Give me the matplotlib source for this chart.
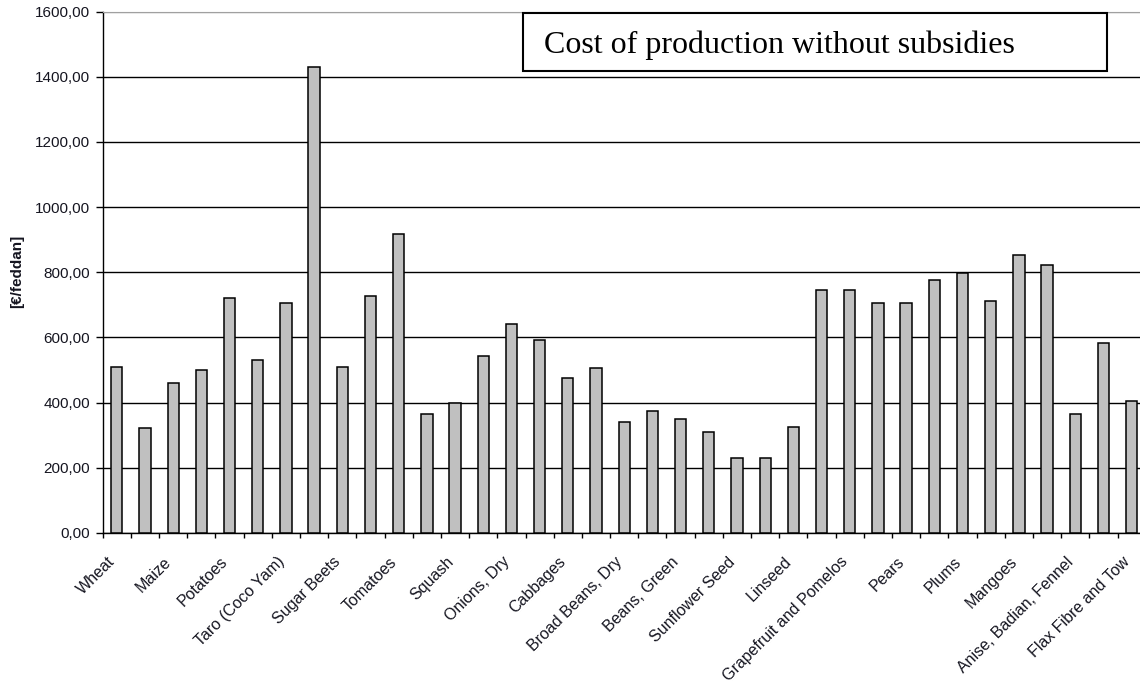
import matplotlib
matplotlib.use("Agg")
import matplotlib.pyplot as plt
from matplotlib.patches import Rectangle
from matplotlib.ticker import FuncFormatter, FixedLocator
from matplotlib.transforms import ScaledTranslation

# cost of production per feddan, one value per crop (only every second crop is labelled)
costs = [510, 322, 460, 500, 721, 531, 705, 1430, 510, 726,
         916, 364, 400, 542, 642, 591, 477, 507, 340, 375,
         350, 309, 230, 230, 325, 746, 746, 706, 706, 777,
         798, 712, 852, 821, 364, 584, 405]

labels = ["Wheat", "Maize", "Potatoes", "Taro (Coco Yam)", "Sugar Beets",
          "Tomatoes", "Squash", "Onions, Dry", "Cabbages", "Broad Beans, Dry",
          "Beans, Green", "Sunflower Seed", "Linseed", "Grapefruit and Pomelos",
          "Pears", "Plums", "Mangoes", "Anise, Badian, Fennel", "Flax Fibre and Tow"]

y_ticks = [0, 200, 400, 600, 800, 1000, 1200, 1400, 1600]

title = "Cost of production without subsidies"
y_label = "[\u20ac/feddan]"

W, H = 1140, 683
fig = plt.figure(figsize=(W / 100, H / 100), dpi=100)
plt.rcParams['font.family'] = ['Liberation Sans', 'DejaVu Sans']

# plot area runs off the right edge of the picture, like the cropped original
left_px, top_px, base_px, cat_px = 102.7, 11.5, 533.0, 28.19
n_cats = len(costs) + 1
ax = fig.add_axes([left_px / W, (H - base_px) / H,
                   n_cats * cat_px / W, (base_px - top_px) / H])

pos = list(range(len(costs)))
ax.bar(pos, costs, width=0.4, color='#c0c0c0', edgecolor='black',
       linewidth=1.1, zorder=3)

ax.set_xlim(-0.5, n_cats - 0.5)
ax.set_ylim(y_ticks[0], y_ticks[-1])

ax.set_yticks(y_ticks)
ax.yaxis.set_major_formatter(FuncFormatter(lambda v, p: f"{v:.2f}".replace('.', ',')))
ax.tick_params(axis='y', direction='out', length=5, width=1.0, labelsize=11,
               pad=4, labelcolor='#151520')

ax.yaxis.grid(True, color='black', linewidth=1.0, zorder=0)
ax.get_ygridlines()[-1].set_color('#a0a0a0')

# labels on every second category, ticks on category boundaries
ax.set_xticks(pos[::2])
ax.set_xticklabels(labels)
ax.xaxis.set_minor_locator(FixedLocator([i - 0.5 for i in range(n_cats + 1)]))
ax.tick_params(axis='x', which='major', length=0, pad=19, labelsize=11.5,
               labelcolor='#151520')
ax.tick_params(axis='x', which='minor', direction='out', length=3.6, width=1.0)
shift = ScaledTranslation(-4 / 100, 0, fig.dpi_scale_trans)
for lab in ax.get_xticklabels():
    lab.set_rotation(45)
    lab.set_ha('right')
    lab.set_va('center')
    lab.set_rotation_mode('anchor')
    lab.set_transform(lab.get_transform() + shift)

for side in ['left', 'bottom']:
    ax.spines[side].set_linewidth(1.0)
    ax.spines[side].set_color('black')
ax.spines['top'].set_color('#a0a0a0')
ax.spines['right'].set_visible(False)

fig.text(16.7 / W, 1 - 271 / H, y_label, rotation=90, fontsize=11,
         fontweight='bold', ha='center', va='center', color='#151520')

# boxed title
box = Rectangle((523.3 / W, 1 - 71 / H), 583.4 / W, 57.7 / H,
                transform=fig.transFigure, facecolor='white', edgecolor='black',
                linewidth=1.5, zorder=5)
fig.patches.append(box)
fig.text(544 / W, 1 - 53.3 / H, title, fontsize=23, family='Liberation Serif',
         ha='left', va='baseline', color='black', zorder=6)

fig.savefig('out.png', dpi=100)
